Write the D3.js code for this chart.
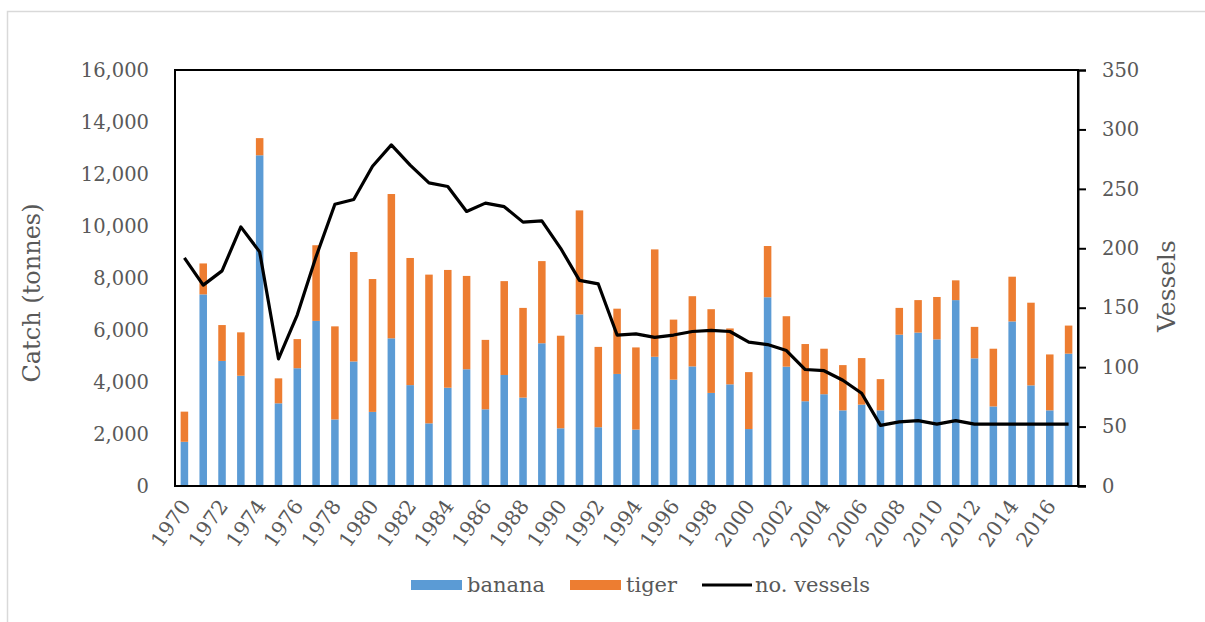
<!DOCTYPE html>
<html><head><meta charset="utf-8">
<script src="https://cdn.jsdelivr.net/npm/d3@7"></script>
<style>body{margin:0;background:#fff;}svg{display:block;}</style>
</head><body>
<svg id="c" width="1205" height="622"></svg>
<script>
const years = d3.range(1970, 2018);
const banana = [1700,7370,4810,4240,12720,3180,4530,6350,2560,4790,2850,5680,
  3880,2410,3780,4490,2950,4270,3400,5490,2220,6600,2260,4310,
  2170,4970,4090,4600,3580,3910,2190,7260,4590,3260,3530,2910,
  3130,2910,5820,5900,5640,7150,4910,3060,6330,3870,2910,5090];
const total = [2860,8560,6190,5910,13380,4140,5650,9260,6140,9000,7960,11230,
  8770,8130,8310,8080,5620,7880,6850,8650,5780,10600,5350,6820,
  5330,9100,6400,7300,6800,6060,4380,9230,6530,5460,5280,4650,
  4920,4110,6850,7150,7270,7910,6120,5280,8050,7050,5060,6170];
const tiger = total.map((t,i)=>t-banana[i]);
const vessels = [192,169,181,218,197,107,144,193,237,241,269,287,
  270,255,252,231,238,235,222,223,200,173,170,127,
  128,125,127,130,131,130,121,119,114,98,97,89,
  78,51,54,55,52,55,52,52,52,52,52,52];
const leftTicks = d3.range(0, 16001, 2000);
const rightTicks = d3.range(0, 351, 50);
const xLabels = years.filter(y => (y-1970)%2===0);

const svg = d3.select("#c");
const L=175, R=1078, T=70, B=486;
const font = "'DejaVu Serif', serif";
const grey = "#595959";

// chart border
svg.append("rect").attr("x",7.5).attr("y",11.5).attr("width",1300).attr("height",700)
  .attr("fill","none").attr("stroke","#d9d9d9").attr("stroke-width",1.5);

const x = d3.scaleBand().domain(years).range([L,R]).paddingInner(0.6).paddingOuter(0.3);
const yL = d3.scaleLinear().domain([0,16000]).range([B,T]);
const yR = d3.scaleLinear().domain([0,350]).range([B,T]);

const data = years.map((yr,i)=>({year:yr,banana:banana[i],tiger:tiger[i]}));
const stack = d3.stack().keys(["banana","tiger"])(data);
const colors = {banana:"#5B9BD5", tiger:"#ED7D31"};

svg.append("g").selectAll("g").data(stack).join("g")
  .attr("fill", d=>colors[d.key])
  .selectAll("rect").data(d=>d).join("rect")
  .attr("x", d=>x(d.data.year)).attr("width", x.bandwidth())
  .attr("y", d=>yL(d[1])).attr("height", d=>yL(d[0])-yL(d[1]));

// line
const line = d3.line().x((d,i)=>x(years[i])+x.bandwidth()/2).y(d=>yR(d));
svg.append("path").datum(vessels).attr("d", line).attr("fill","none")
  .attr("stroke","#000").attr("stroke-width",3.2).attr("stroke-linejoin","round");

// frame
svg.append("rect").attr("x",L).attr("y",T).attr("width",R-L).attr("height",B-T)
  .attr("fill","none").attr("stroke","#000").attr("stroke-width",2);

// left axis labels
const gl = svg.append("g").attr("transform",`translate(${L},0)`)
  .call(d3.axisLeft(yL).tickValues(leftTicks).tickSize(0).tickPadding(26).tickFormat(d3.format(",")));
gl.select(".domain").remove();
gl.selectAll("text").attr("font-family",font).attr("font-size",19.5).attr("fill",grey);

// right axis
const gr = svg.append("g").attr("transform",`translate(${R},0)`)
  .call(d3.axisRight(yR).tickValues(rightTicks).tickSize(8).tickPadding(16));
gr.select(".domain").attr("stroke","#000").attr("stroke-width",2);
gr.selectAll("line").attr("stroke","#000").attr("stroke-width",2);
gr.selectAll("text").attr("font-family",font).attr("font-size",19.5).attr("fill",grey);

// bottom tick for right end
svg.append("line").attr("x1",R).attr("x2",R+8).attr("y1",B).attr("y2",B).attr("stroke","#000").attr("stroke-width",2);

// x labels
svg.append("g").selectAll("text").data(xLabels).join("text")
  .attr("transform", d=>`translate(${x(d)+x.bandwidth()/2+7},${B+20}) rotate(-55)`)
  .attr("text-anchor","end").attr("font-family",font).attr("font-size",20.5).attr("fill",grey)
  .text(d=>d);

// axis titles
svg.append("text").attr("transform",`translate(40,${293}) rotate(-90)`)
  .attr("text-anchor","middle").attr("font-family",font).attr("font-size",24).attr("fill",grey)
  .text("Catch (tonnes)");
svg.append("text").attr("transform",`translate(1175,${286}) rotate(-90)`)
  .attr("text-anchor","middle").attr("font-family",font).attr("font-size",25).attr("fill",grey)
  .text("Vessels");

// legend
const leg = svg.append("g").attr("font-family",font).attr("font-size",21).attr("fill",grey);
leg.append("rect").attr("x",411).attr("y",580).attr("width",51).attr("height",10).attr("fill",colors.banana);
leg.append("text").attr("x",467).attr("y",592).text("banana");
leg.append("rect").attr("x",570).attr("y",580).attr("width",51).attr("height",10).attr("fill",colors.tiger);
leg.append("text").attr("x",626).attr("y",592).text("tiger");
leg.append("line").attr("x1",702).attr("x2",752).attr("y1",585).attr("y2",585).attr("stroke","#000").attr("stroke-width",3.2);
leg.append("text").attr("x",755).attr("y",592).text("no. vessels");
</script>
</body></html>
